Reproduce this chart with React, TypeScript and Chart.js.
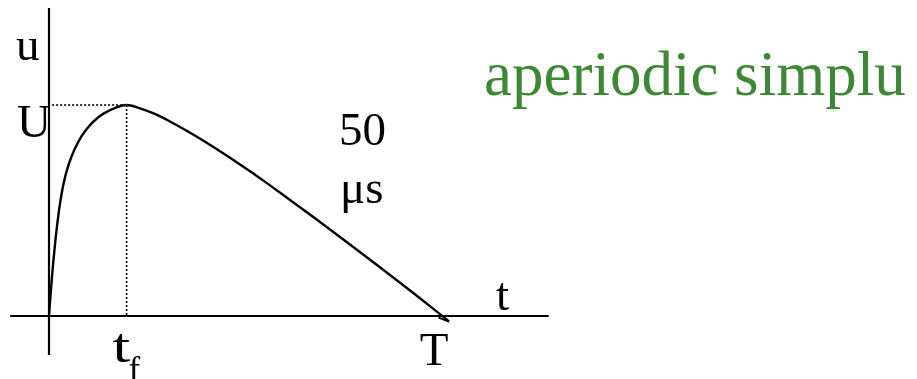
import React, { useEffect, useRef } from "react";
import { Chart, registerables } from "chart.js";

Chart.register(...registerables);

// Aperiodic impulse voltage u(t): time in µs, voltage relative to the crest U
const timeUs = [0, 0.25, 0.55, 0.86, 1.29, 1.64, 2.15, 2.84, 3.78, 4.86, 6.35, 8.08, 10, 11.73, 13.4, 15.59, 17.74, 19.85, 22.04, 24.19, 26.29, 28.48, 31.06, 34.02, 38.36, 42.65, 46.91, 49.74, 51.55];
const voltage = [0, 0.125, 0.255, 0.37, 0.5, 0.583, 0.67, 0.75, 0.826, 0.886, 0.942, 0.979, 1.0, 0.984, 0.961, 0.922, 0.878, 0.832, 0.781, 0.729, 0.676, 0.619, 0.55, 0.47, 0.351, 0.231, 0.11, 0.028, -0.026];

// Small return stroke at the end of the tail
const tailHookTime = [51.55, 50.2];
const tailHookVoltage = [-0.026, -0.008];

const frontTime = 10; // t_f
const tailTime = 50; // T
const crest = 1; // U

// Axis extents
const xAxisRange = [-5, 64.4];
const yAxisRange = [-0.185, 1.46];

// Visible window of the scales
const xWindow = [-6.314, 111.86];
const yWindow = [-0.2986, 1.4976];

const inkColor = "#000000";
const titleColor = "#3d8834";
const serif = "'Liberation Serif', 'Times New Roman', serif";

const labelsPlugin = {
  id: "impulseLabels",
  afterDatasetsDraw(chart: any) {
    const { ctx, scales } = chart;
    const xs = scales.x;
    const ys = scales.y;
    ctx.save();
    ctx.fillStyle = inkColor;
    ctx.textBaseline = "alphabetic";

    ctx.font = `47px ${serif}`;
    ctx.textAlign = "left";
    ctx.fillText("u", 16, 60);
    ctx.fillText("U", 17, ys.getPixelForValue(crest) + 32);

    // t_f below the front time
    const xf = xs.getPixelForValue(frontTime);
    ctx.save();
    ctx.translate(xf - 14, 362);
    ctx.scale(1.3, 1);
    ctx.font = `49px ${serif}`;
    ctx.fillText("t", 0, 0);
    ctx.restore();
    ctx.font = `35px ${serif}`;
    ctx.fillText("f", xf + 2, 381);

    ctx.font = `47px ${serif}`;
    ctx.textAlign = "center";
    ctx.fillText("T", xs.getPixelForValue(tailTime) - 3, 365);
    ctx.textAlign = "left";
    ctx.fillText("t", 496, 310);

    ctx.fillText("50", 339, 145);
    ctx.fillText("\u03bcs", 340, 203);

    ctx.fillStyle = titleColor;
    ctx.font = `63px ${serif}`;
    ctx.fillText("aperiodic simplu", 484, 95);
    ctx.restore();
  },
};

export default function App() {
  const canvasRef = useRef<HTMLCanvasElement | null>(null);

  useEffect(() => {
    if (!canvasRef.current) return;
    const curve = timeUs.map((t, i) => ({ x: t, y: voltage[i] }));
    const hook = tailHookTime.map((t, i) => ({ x: t, y: tailHookVoltage[i] }));
    const chart = new Chart(canvasRef.current, {
      type: "line",
      data: {
        datasets: [
          {
            label: "u(t)",
            data: curve,
            borderColor: inkColor,
            borderWidth: 2.4,
            pointRadius: 0,
            cubicInterpolationMode: "monotone",
            fill: false,
          },
          {
            label: "tail hook",
            data: hook,
            borderColor: inkColor,
            borderWidth: 2,
            pointRadius: 0,
          },
          {
            label: "t axis",
            data: [
              { x: xAxisRange[0], y: 0 },
              { x: xAxisRange[1], y: 0 },
            ],
            borderColor: inkColor,
            borderWidth: 2.2,
            pointRadius: 0,
          },
          {
            label: "u axis",
            data: [
              { x: 0, y: yAxisRange[0] },
              { x: 0, y: yAxisRange[1] },
            ],
            borderColor: inkColor,
            borderWidth: 2.2,
            pointRadius: 0,
          },
          {
            label: "crest level",
            data: [
              { x: 0.4, y: crest },
              { x: frontTime, y: crest },
            ],
            borderColor: inkColor,
            borderWidth: 1.6,
            borderDash: [2, 2],
            pointRadius: 0,
          },
          {
            label: "front time",
            data: [
              { x: frontTime, y: crest },
              { x: frontTime, y: 0 },
            ],
            borderColor: inkColor,
            borderWidth: 1.6,
            borderDash: [2, 2],
            pointRadius: 0,
          },
        ],
      },
      options: {
        responsive: false,
        animation: false,
        layout: { padding: 0 },
        plugins: {
          legend: { display: false },
          tooltip: { enabled: false },
        },
        scales: {
          x: { type: "linear", min: xWindow[0], max: xWindow[1], display: false },
          y: { type: "linear", min: yWindow[0], max: yWindow[1], display: false },
        },
      },
      plugins: [labelsPlugin],
    });
    return () => chart.destroy();
  }, []);

  return (
    <div style={{ position: "absolute", left: 0, top: 0, width: 917, height: 379, background: "#ffffff" }}>
      <canvas ref={canvasRef} width={917} height={379} style={{ width: 917, height: 379, display: "block" }} />
    </div>
  );
}
